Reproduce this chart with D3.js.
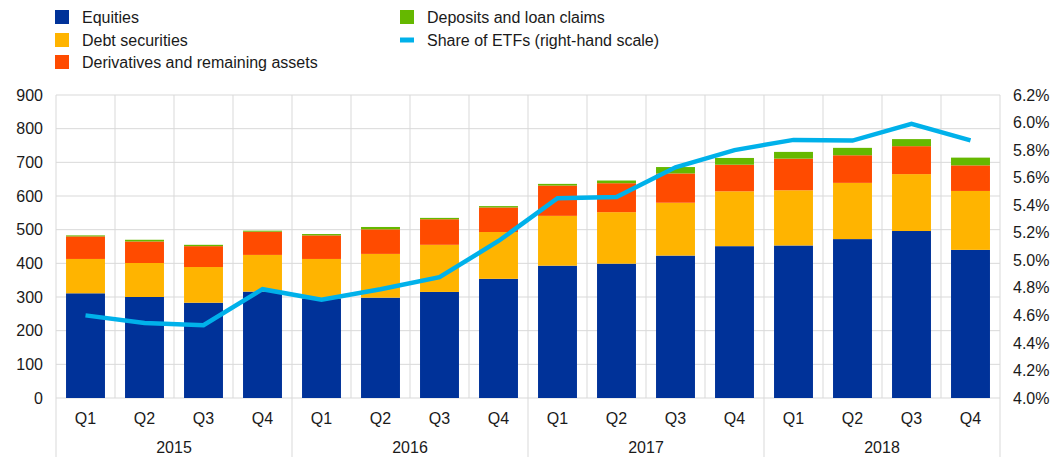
<!DOCTYPE html>
<html><head><meta charset="utf-8">
<script src="https://cdn.jsdelivr.net/npm/d3@7"></script>
<style>body{margin:0;background:#fff}svg{display:block;font-family:"Liberation Sans",Arial,sans-serif}</style>
</head><body><svg id="c" width="1059" height="457"></svg>
<script>
const years = ["2015","2016","2017","2018"];
const quarters = ["Q1","Q2","Q3","Q4"];
const equities = [311,300,283,316, 296,298,315,354, 393,399,423,451, 453,472,496,440];
const debtSecurities = [102,101,106,109, 117,130,140,139, 148,153,157,163, 164,167,169,175];
const derivatives = [67,64,62,69, 70,73,76,73, 90,86,87,79, 94,82,83,76];
const deposits = [3,5,4,3, 4,7,4,4, 5,8,19,20, 20,22,21,23];
const etfShare = [4.60,4.545,4.528,4.79, 4.714,4.79,4.877,5.14, 5.45,5.46,5.675,5.80, 5.874,5.869,5.99,5.87];
const leftTicks = [0,100,200,300,400,500,600,700,800,900];
const rightTicks = [4.0,4.2,4.4,4.6,4.8,5.0,5.2,5.4,5.6,5.8,6.0,6.2];
const seriesNames = ["Equities","Debt securities","Derivatives and remaining assets","Deposits and loan claims"];
const colors = ["#003299","#ffb400","#ff4b00","#65b800"];
const lineColor = "#00b1ea";
const lineName = "Share of ETFs (right-hand scale)";

const svg = d3.select("#c");
const L = 56, R = 1000, T = 95, B = 398;
const periods = [];
years.forEach(y => quarters.forEach(q => periods.push(y + " " + q)));
const rows = periods.map((p, i) => ({p, a: equities[i], b: debtSecurities[i], c: derivatives[i], d: deposits[i]}));
const x = d3.scaleBand().domain(periods).range([L, R]).paddingInner(0.34).paddingOuter(0.17);
const y = d3.scaleLinear().domain([0, 900]).range([B, T]);
const y2 = d3.scaleLinear().domain([4.0, 6.2]).range([B, T]);
const grid = "#d9d9d9";
const fs = 16;
const tc = "#1a1a1a";

// horizontal grid
svg.append("g").selectAll("line").data(leftTicks).join("line")
  .attr("x1", L).attr("x2", R).attr("y1", d => y(d)).attr("y2", d => y(d))
  .attr("stroke", grid).attr("stroke-width", 1);
// vertical grid between quarters
const step = x.step();
const bounds = d3.range(17).map(i => L + i * step);
svg.append("g").selectAll("line").data(bounds).join("line")
  .attr("x1", d => d).attr("x2", d => d).attr("y1", T)
  .attr("y2", (d, i) => i % 4 === 0 ? 457 : B)
  .attr("stroke", grid).attr("stroke-width", 1);

// stacked bars
const stack = d3.stack().keys(["a","b","c","d"])(rows);
svg.append("g").selectAll("g").data(stack).join("g")
  .attr("fill", (d, i) => colors[i])
  .selectAll("rect").data(d => d).join("rect")
  .attr("x", d => x(d.data.p)).attr("width", x.bandwidth())
  .attr("y", d => y(d[1])).attr("height", d => y(d[0]) - y(d[1]));

// line
const line = d3.line().x((d, i) => x(periods[i]) + x.bandwidth() / 2).y(d => y2(d));
svg.append("path").datum(etfShare).attr("d", line).attr("fill", "none")
  .attr("stroke", lineColor).attr("stroke-width", 4.5).attr("stroke-linejoin", "miter");

// left axis
const yAxis = d3.axisLeft(y).tickValues(leftTicks).tickSize(0).tickPadding(13);
const ga = svg.append("g").attr("transform", `translate(${L},0)`).call(yAxis);
ga.select(".domain").remove();
ga.selectAll("text").attr("font-size", fs).attr("fill", tc).style("font-family", "Liberation Sans, Arial, sans-serif");
// right axis
const y2Axis = d3.axisRight(y2).tickValues(rightTicks).tickSize(0).tickPadding(13).tickFormat(d => d.toFixed(1) + "%");
const gb = svg.append("g").attr("transform", `translate(${R},0)`).call(y2Axis);
gb.select(".domain").remove();
gb.selectAll("text").attr("font-size", fs).attr("fill", tc).style("font-family", "Liberation Sans, Arial, sans-serif");
// x labels
svg.append("g").selectAll("text").data(periods).join("text")
  .attr("x", d => x(d) + x.bandwidth() / 2).attr("y", 424)
  .attr("text-anchor", "middle").attr("font-size", fs).attr("fill", tc)
  .text(d => d.split(" ")[1]);
svg.append("g").selectAll("text").data(years).join("text")
  .attr("x", (d, i) => L + (i * 4 + 2) * step).attr("y", 453)
  .attr("text-anchor", "middle").attr("font-size", fs).attr("fill", tc)
  .text(d => d);

// legend
const legItems = [
  {name: seriesNames[0], color: colors[0], cx: 55, cy: 17, type: "sq"},
  {name: seriesNames[1], color: colors[1], cx: 55, cy: 40, type: "sq"},
  {name: seriesNames[2], color: colors[2], cx: 55, cy: 62, type: "sq"},
  {name: seriesNames[3], color: colors[3], cx: 400, cy: 17, type: "sq"},
  {name: lineName, color: lineColor, cx: 400, cy: 40, type: "ln"}
];
const lg = svg.append("g").selectAll("g").data(legItems).join("g");
lg.append("rect").attr("x", d => d.cx).attr("width", 14)
  .attr("y", d => d.type === "sq" ? d.cy - 7 : d.cy - 2.5)
  .attr("height", d => d.type === "sq" ? 14 : 5).attr("fill", d => d.color);
lg.append("text").attr("x", d => d.cx + 27).attr("y", d => d.cy + 6)
  .attr("font-size", fs).attr("fill", tc).text(d => d.name);
</script></body></html>
